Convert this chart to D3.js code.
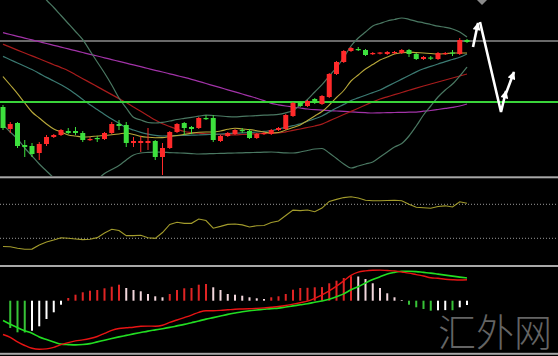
<!DOCTYPE html>
<html><head><meta charset="utf-8">
<script src="https://cdn.jsdelivr.net/npm/d3@7"></script>
<style>html,body{margin:0;padding:0;background:#000;overflow:hidden}</style>
</head><body>
<svg id="c" width="558" height="356"></svg>
<script>
// ---- price candles (index 0..64) ----
const openP  = [1269,1247,1253,1231,1230,1223,1232,1239,1241,1245,1245,1243,1236,1238,1237,1243,1252,1251,1233,1233,1233,1235,1219,1228,1244,1253,1249,1248,1258,1258,1235,1240,1242,1246,1245,1238,1242,1242,1246,1247,1260,1274,1270,1277,1272,1279,1302,1314,1325,1327,1326,1322,1322.5,1322,1323,1323,1326,1322,1317,1318.5,1317,1322,1323.5,1322,1336];
const highP  = [1271,1254,1254,1236,1233,1234,1241,1242,1247,1248,1249,1245,1239,1240,1244,1254,1256,1254,1239,1240,1248,1236,1233,1245,1253,1254,1250,1259,1261,1261,1241,1244,1247,1248,1247,1243,1244,1247,1249,1262,1274,1275,1276,1278,1281,1303,1315,1326,1329,1329,1327,1324,1324,1325,1325,1327,1327,1323,1320,1320,1324,1324,1326,1338,1337];
const lowP   = [1246,1243,1228,1219,1219,1216,1230,1238,1240,1242,1241,1234,1235,1234,1236,1242,1246,1229,1229,1224,1226,1216,1201,1227,1243,1241,1242,1247,1256,1234,1234,1239,1241,1243,1237,1237,1241,1241,1245,1246,1259,1269,1269,1272,1271,1278,1301,1313,1324,1325,1320,1321,1321.5,1321,1322,1322,1319,1316,1316,1316,1316,1321,1320,1321,1333];
const closeP = [1248,1252,1230,1229,1222,1232,1239,1241,1246,1243,1243,1236,1237,1237,1243,1252,1250,1233,1235,1235,1235,1219,1228,1244,1252,1248,1247,1258,1257,1236,1240,1243,1246,1245,1238,1242,1243,1246,1248,1261,1273,1270,1275,1273,1280,1302,1314,1325,1328,1326,1321,1323,1323.5,1324,1324,1326,1322,1317,1319,1317.5,1323,1323,1322.5,1336,1334];

// ---- overlays ----
const bandUpper = [1436,1426,1416,1406,1396,1385,1376,1368.5,1360.5,1352.5,1344.5,1336.3,1325.2,1314,1303,1291,1278,1268,1258.7,1256,1253.5,1253,1253.7,1255,1256.5,1257.6,1258.7,1259.8,1260.9,1260.5,1260,1259.4,1259.1,1259.6,1260,1260.4,1260.8,1261.1,1261.6,1263.2,1265.5,1271,1276.5,1284,1291.4,1300,1308.4,1318.5,1330,1338,1344,1350,1352.5,1355,1356.5,1358,1356.7,1354.7,1353.2,1351.5,1349.8,1348.7,1347,1344,1339];
const bandMid = [1299.5,1291,1282.4,1273,1264,1258,1252,1247,1244,1241,1240,1239,1239.3,1240,1240.5,1241.2,1242,1243,1241.5,1239.6,1238.7,1238.3,1238.4,1239.5,1240.5,1241.6,1242.7,1243.8,1244,1244,1245,1246.7,1247.8,1247,1246.4,1245.3,1244,1243,1243.5,1246,1248.5,1251,1255.5,1260,1264.5,1271,1278.5,1285.5,1295,1301,1307,1311.5,1316,1319,1322,1323.2,1323.9,1323.4,1323,1322.5,1322,1322.4,1323,1323,1323];
const bandLower = [1251,1244,1237,1228,1220,1212,1205,1198,1190,1184,1181,1182,1188,1196,1202.5,1206.5,1210.5,1216,1221,1223,1223.6,1224,1223.7,1223.4,1223.1,1222.8,1222.4,1222,1222.2,1222.4,1222.6,1222.8,1223,1223.2,1223.4,1223.6,1223.8,1224,1223.6,1223.2,1223,1224,1225.5,1227,1227.5,1223,1217.5,1212,1208,1210,1212,1214,1219,1224,1229,1232.5,1240,1250,1261,1270,1279,1286,1292,1300,1309];
const maTeal = [1319.6,1316.3,1313,1309.7,1306.5,1302.6,1298.6,1295,1291.2,1287.1,1282,1276.5,1271.2,1266.4,1261.6,1257,1252.7,1248.5,1246,1243.7,1241.9,1240.6,1240,1240.2,1240.4,1240.6,1240.8,1241,1241.3,1241.7,1242,1242.4,1242.8,1243.1,1243.5,1244,1244.6,1245.3,1247,1248.6,1250.3,1252.1,1254.7,1257.2,1260,1264,1268,1271.6,1275.4,1278.1,1280.8,1283.4,1286,1289.6,1293.2,1296.9,1300.5,1304.1,1307.2,1309.6,1312,1314.4,1316.5,1318.7,1322];
const maRed = [1331.8,1328.9,1325.9,1323,1320.1,1317.2,1314.2,1311.3,1308.4,1305.3,1301.3,1297.3,1293.4,1289.4,1285.4,1281.4,1277.4,1273.4,1269.1,1264.7,1260.3,1255.9,1252.2,1249.5,1246.9,1244.5,1243.5,1242.8,1242.2,1241.7,1241.4,1241.1,1241.1,1241.5,1241.9,1242.3,1242.7,1243,1243,1244.1,1245.6,1247,1248.5,1250,1251.9,1255.1,1258.3,1261.5,1264.6,1267.8,1271,1274.1,1277,1279.2,1281.3,1283.5,1285.7,1287.9,1290,1292,1294,1296,1298,1300,1302];
const maPurple = [1343.3,1341.5,1339.7,1337.9,1336.1,1334.3,1332.5,1330.7,1328.9,1327.1,1325.3,1323.5,1321.7,1320,1318.2,1316.4,1314.6,1312.8,1311.1,1309.3,1307.5,1305.7,1304,1302.2,1300.4,1298.6,1296.7,1294.6,1292.5,1290.4,1288.3,1286.2,1284.1,1282,1279.9,1277.8,1275.4,1272.7,1271.2,1270,1269,1268,1267,1266.3,1265.9,1265.4,1265,1264.6,1264.1,1263.7,1263.3,1263,1263.2,1263.3,1263.5,1263.6,1263.8,1263.9,1264.8,1265.5,1266.5,1267.6,1268.7,1270,1272];
const levelGray = 1335;
const levelGreen = 1274;

// ---- RSI ----
const rsi = [20.4,20.0,18.2,17.1,17.3,22.1,25.6,28.0,30.6,30.1,29.2,28.4,28.8,30.8,36.2,40.6,39.1,33.1,33.2,33.6,30.6,29.9,36.8,46.4,48.9,47.6,47.6,52.7,50.9,41.9,44.0,46.4,46.8,45.8,43.3,44.8,45.1,48.5,50.4,56.8,63.2,62.6,63.3,61.2,65.6,73.4,75.8,77.9,78.9,77.5,74.8,74.2,74.2,74.5,74.8,74.1,70.0,66.5,66.0,65.4,67.4,68.2,66.8,72.9,71.2];
const rsiLevels = [30, 70];

// ---- MACD ----
const macdHist = [null,-27.3,-31.6,-31.8,-30,-25.6,-18.3,-11.6,-4,2.7,6,8.4,10,10.7,12.4,14,16,12.7,10.7,9.4,6.7,4.4,3.4,6.7,10.7,12.4,12.7,16,16.7,13.4,10.7,6.7,6,5,3.4,2.4,1.7,3.4,4.4,6.7,11,12.7,12.9,13.4,13.6,17.4,20,22.7,24.5,24.2,21.7,17.4,12.7,7.4,3.4,0.7,-4,-6.6,-8.3,-10,-9.6,-9.4,-9.5,-6.6,-4.3];
const macdMain = [-33.8,-36.7,-41.1,-44.8,-47.6,-48.5,-48.2,-46.6,-44.0,-41.9,-40.2,-39.2,-37.8,-35.8,-32.7,-29.6,-27.8,-27.1,-26.5,-25.6,-25.4,-25.5,-24.6,-21.7,-19.3,-16.9,-14.4,-11.6,-10.0,-10.0,-9.7,-9.1,-8.5,-8.3,-8.0,-7.7,-7.2,-6.5,-5.8,-4.8,-3.4,-2.0,-0.5,2.3,5.9,9.8,14.5,19.8,25.4,28.6,29.8,30.4,30.6,30.2,29.8,28.7,27.6,26.1,24.7,22.9,22.4,21.5,21.0,20.7,21.0];
const macdSignal = [-19.8,-23.6,-26.9,-30.0,-32.6,-36.2,-38.8,-41.2,-43.4,-43.9,-44.2,-43.8,-42.9,-41.2,-39.5,-37.8,-36.2,-34.7,-33.2,-31.8,-30.4,-29.2,-28.0,-26.7,-25.2,-23.7,-22.0,-20.3,-18.4,-16.9,-15.3,-13.7,-12.3,-11.0,-10.0,-9.3,-8.6,-7.9,-7.4,-6.3,-5.2,-4.1,-3.0,-1.6,-0.3,1.4,3.9,6.8,10.9,14.0,17.7,21.1,23.9,26.7,28.3,29.4,29.4,29.1,28.3,27.6,26.6,25.6,24.6,23.6,22.7];

// ---- annotation arrows (bar index, price) ----
const arrowPaths = [
  [[64.83,1329],[65.52,1353]],
  [[65.79,1354],[68.69,1264],[69.38,1285]],
  [[69.24,1280],[70.48,1304]]
];
const watermark = "汇外网";

// ================= drawing =================
const W = 558, H = 356;
const svg = d3.select("#c");
svg.append("rect").attr("width",W).attr("height",H).attr("fill","#000");

const x = d3.scaleLinear().domain([0, 64]).range([3, 467]);
const yP = d3.scaleLinear().domain([1200, 1376]).range([176, 0]);
const yR = d3.scaleLinear().domain([0, 100]).range([263.8, 178.8]);
const yM = d3.scaleLinear().domain([-50, 30]).range([350.7, 270.7]);

const defs = svg.append("defs");
defs.append("clipPath").attr("id","cpMain").append("rect").attr("x",0).attr("y",0).attr("width",W).attr("height",176);
defs.append("marker").attr("id","ah").attr("markerUnits","userSpaceOnUse")
  .attr("viewBox","0 0 10 10").attr("refX",9).attr("refY",5)
  .attr("markerWidth",9).attr("markerHeight",8).attr("orient","auto")
  .append("path").attr("d","M0,0L10,5L0,10Z").attr("fill","#fff");

const main = svg.append("g").attr("clip-path","url(#cpMain)");

// horizontal levels
main.append("line").attr("x1",0).attr("x2",W).attr("y1",yP(levelGray)).attr("y2",yP(levelGray))
  .attr("stroke","#8c8c8c").attr("stroke-width",1.5);

const lineP = d3.line().x((d,i)=>x(i)).y(d=>yP(d)).curve(d3.curveMonotoneX);
const overlays = [
  [maPurple, "#a233a8", 1.2],
  [maRed, "#a81c1c", 1.2],
  [maTeal, "#3b7a72", 1.2],
  [bandUpper, "#4a7862", 1.2],
  [bandLower, "#4a7862", 1.2],
  [bandMid, "#b8a83a", 1.1]
];
overlays.forEach(([arr,col,w])=>{
  main.append("path").datum(arr).attr("d",lineP).attr("fill","none")
    .attr("stroke",col).attr("stroke-width",w);
});

main.append("line").attr("x1",0).attr("x2",W).attr("y1",yP(levelGreen)).attr("y2",yP(levelGreen))
  .attr("stroke","#3ad43a").attr("stroke-width",2);

// candles
const idx = d3.range(openP.length);
const up = i => closeP[i] >= openP[i];
const colUp = "#ff2a2a", colDn = "#3de03d";
const cg = main.append("g");
cg.selectAll("line.w").data(idx).join("line")
  .attr("x1",i=>x(i)).attr("x2",i=>x(i))
  .attr("y1",i=>yP(highP[i])).attr("y2",i=>yP(lowP[i]))
  .attr("stroke",i=>up(i)?colUp:colDn).attr("stroke-width",1);
cg.selectAll("rect.b").data(idx).join("rect")
  .attr("x",i=>x(i)-2.5).attr("width",5)
  .attr("y",i=>yP(Math.max(openP[i],closeP[i])))
  .attr("height",i=>Math.max(1.2, Math.abs(yP(openP[i])-yP(closeP[i]))))
  .attr("fill",i=>up(i)?colUp:colDn);

// arrows
svg.append("path").attr("d","M477,0L487,0L482,5Z").attr("fill","#8a8a8a");
const lineA = d3.line().x(d=>x(d[0])).y(d=>yP(d[1]));
arrowPaths.forEach(p=>{
  svg.append("path").datum(p).attr("d",lineA).attr("fill","none")
    .attr("stroke","#fff").attr("stroke-width",2.6).attr("stroke-linejoin","miter")
    .attr("marker-end","url(#ah)");
});

// RSI panel
rsiLevels.forEach(v=>{
  svg.append("line").attr("x1",0).attr("x2",W).attr("y1",yR(v)).attr("y2",yR(v))
    .attr("stroke","#9a9a9a").attr("stroke-width",1).attr("stroke-dasharray","1,2");
});
svg.append("path").datum(rsi)
  .attr("d", d3.line().x((d,i)=>x(i)).y(d=>yR(d)))
  .attr("fill","none").attr("stroke","#a39c2c").attr("stroke-width",1.1);

// MACD histogram
const histColor = i => {
  const v = macdHist[i], p = i>0 ? macdHist[i-1] : null;
  if (v >= 0) return (p==null || v > p) ? "#e02424" : "#f2d6dc";
  return (p==null || v < p) ? "#37c337" : "#ffffff";
};
svg.append("g").selectAll("rect").data(idx.filter(i=>macdHist[i]!=null)).join("rect")
  .attr("x",i=>x(i)-1).attr("width",2)
  .attr("y",i=>Math.min(yM(0), yM(macdHist[i])))
  .attr("height",i=>Math.abs(yM(macdHist[i])-yM(0)))
  .attr("fill",histColor);

// watermark
svg.append("text").attr("x",438).attr("y",346).text(watermark)
  .attr("font-family","'Noto Sans CJK SC','Noto Sans CJK TC',sans-serif")
  .attr("font-weight",300).attr("font-size",38).attr("fill","#6f6f6f").attr("opacity",0.9);

const lineM = d3.line().x((d,i)=>x(i)).y(d=>yM(d)).curve(d3.curveMonotoneX);
svg.append("path").datum(macdSignal).attr("d",lineM).attr("fill","none")
  .attr("stroke","#22dd22").attr("stroke-width",1.6);
svg.append("path").datum(macdMain).attr("d",lineM).attr("fill","none")
  .attr("stroke","#e81414").attr("stroke-width",1.4);

// panel separators
[176.3, 265, 352.8].forEach(yy=>{
  svg.append("rect").attr("x",0).attr("y",yy).attr("width",W).attr("height",2).attr("fill","#a8a8a8");
});
</script>
</body></html>
